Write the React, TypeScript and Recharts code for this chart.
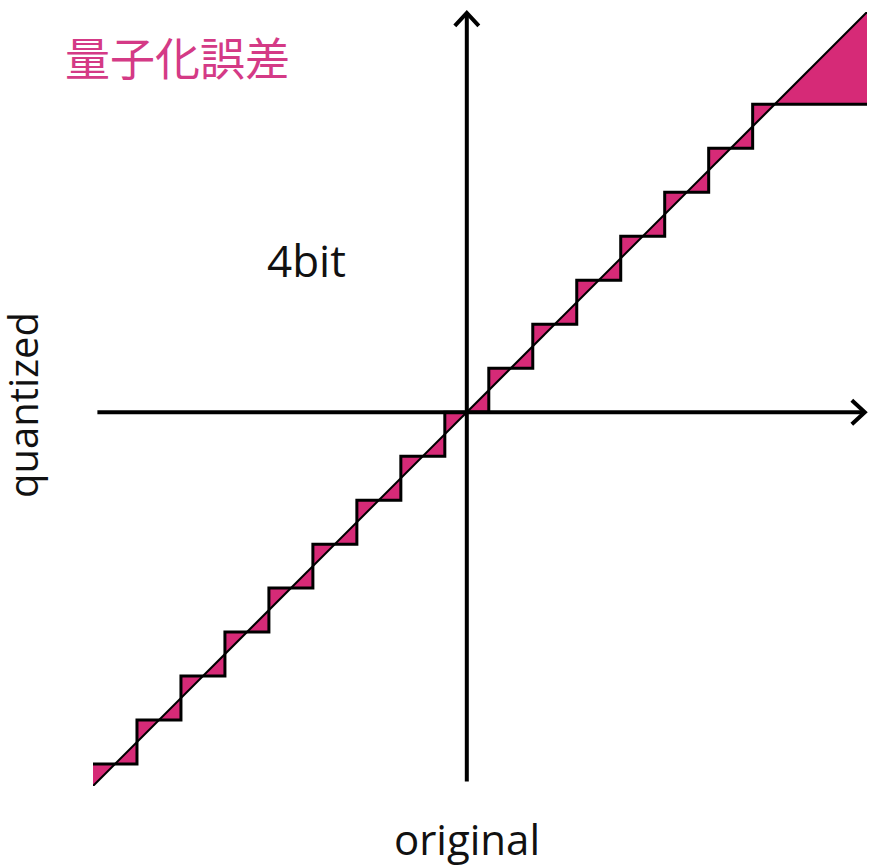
import { ComposedChart, Area, Line, XAxis, YAxis, ReferenceLine } from 'recharts';

// 4bit quantization: 16 output levels (in units of one step)
const levels = [-8, -7, -6, -5, -4, -3, -2, -1, 0, 1, 2, 3, 4, 5, 6, 7];
// where the original signal (diagonal) starts and ends
const inputRange = [-8.5, 9.1];
// axis extents (arrow tips at the end)
const xAxisSpan = [-8.4, 9.05];
const yAxisSpan = [-8.4, 9.08];

const PINK = '#d62a77';
const TITLE_PINK = '#d43a86';

// staircase: round-to-nearest, clipped to the last level
const stairData: { x: number; q: number }[] = [];
stairData.push({ x: inputRange[0], q: levels[0] });
for (let i = 0; i < levels.length - 1; i++) {
  const edge = (levels[i] + levels[i + 1]) / 2;
  stairData.push({ x: edge, q: levels[i] });
  stairData.push({ x: edge, q: levels[i + 1] });
}
stairData.push({ x: inputRange[1], q: levels[levels.length - 1] });

const diagData = inputRange.map((v) => ({ x: v, d: v }));

// error band between the diagonal and the staircase
const errData: { x: number; err: [number, number] }[] = [];
errData.push({ x: inputRange[0], err: [inputRange[0], levels[0]] });
for (let i = 0; i < levels.length - 1; i++) {
  const k = levels[i];
  const edge = (k + levels[i + 1]) / 2;
  errData.push({ x: k, err: [k, k] });
  errData.push({ x: edge, err: [k, edge] });
  errData.push({ x: edge, err: [edge, levels[i + 1]] });
}
const last = levels[levels.length - 1];
errData.push({ x: last, err: [last, last] });
errData.push({ x: inputRange[1], err: [last, inputRange[1]] });

const ArrowLine = (props: any) => {
  const { x1, y1, x2, y2 } = props;
  const len = Math.hypot(x2 - x1, y2 - y1) || 1;
  const ux = (x2 - x1) / len;
  const uy = (y2 - y1) / len;
  const back = 13;
  const side = 12;
  const ax = x2 - ux * back - uy * side;
  const ay = y2 - uy * back + ux * side;
  const bx = x2 - ux * back + uy * side;
  const by = y2 - uy * back - ux * side;
  return (
    <g>
      <line x1={x1} y1={y1} x2={x2 - ux * 2} y2={y2 - uy * 2} stroke="#000" strokeWidth={4} />
      <polyline
        points={`${ax},${ay} ${x2},${y2} ${bx},${by}`}
        fill="none"
        stroke="#000"
        strokeWidth={4}
        strokeLinejoin="miter"
      />
    </g>
  );
};

export default function App() {
  return (
    <div style={{ position: 'absolute', left: 0, top: 0, width: 871, height: 866, background: '#fff' }}>
      <ComposedChart
        width={871}
        height={866}
        data={errData}
        margin={{ top: 12, right: 4, left: 93, bottom: 80 }}
      >
        <XAxis type="number" dataKey="x" domain={inputRange} allowDataOverflow hide />
        <YAxis type="number" domain={inputRange} allowDataOverflow hide />
        <Area
          type="linear"
          dataKey="err"
          stroke="none"
          fill={PINK}
          fillOpacity={1}
          isAnimationActive={false}
          dot={false}
          activeDot={false}
        />
        <Line
          data={diagData}
          type="linear"
          dataKey="d"
          stroke="#000"
          strokeWidth={2}
          dot={false}
          activeDot={false}
          isAnimationActive={false}
        />
        <Line
          data={stairData}
          type="linear"
          dataKey="q"
          stroke="#000"
          strokeWidth={3}
          strokeLinejoin="miter"
          dot={false}
          activeDot={false}
          isAnimationActive={false}
        />
        <ReferenceLine
          segment={[{ x: xAxisSpan[0], y: 0 }, { x: xAxisSpan[1], y: 0 }]}
          ifOverflow="visible"
          shape={ArrowLine}
        />
        <ReferenceLine
          segment={[{ x: 0, y: yAxisSpan[0] }, { x: 0, y: yAxisSpan[1] }]}
          ifOverflow="visible"
          shape={ArrowLine}
        />
      </ComposedChart>
      <svg
        width={871}
        height={866}
        style={{ position: 'absolute', left: 0, top: 0, pointerEvents: 'none' }}
      >
        <text x={65} y={76} fontSize={45} fill={TITLE_PINK} fontFamily="'Noto Sans CJK JP', sans-serif">
          量子化誤差
        </text>
        <text x={267} y={277} fontSize={44} fill="#111" fontFamily="'Open Sans', sans-serif">
          4bit
        </text>
        <text x={467} y={855} fontSize={42} fill="#111" textAnchor="middle" fontFamily="'Open Sans', sans-serif">
          original
        </text>
        <text
          transform="translate(38,405) rotate(-90)"
          fontSize={40}
          fill="#111"
          textAnchor="middle"
          fontFamily="'Open Sans', sans-serif"
        >
          quantized
        </text>
      </svg>
    </div>
  );
}
